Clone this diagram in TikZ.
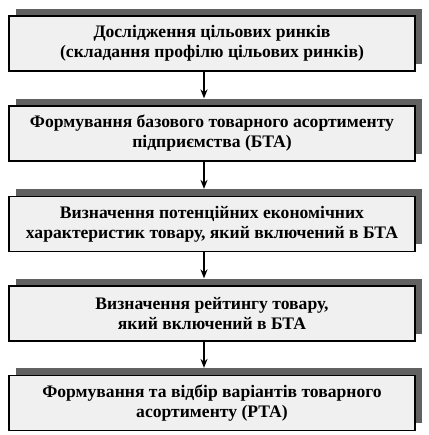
\documentclass[tikz,border=0pt]{standalone}
\usepackage{fontspec}
\setmainfont{Liberation Serif}
\usetikzlibrary{shadows,arrows.meta}
\begin{document}
\begin{tikzpicture}[x=1pt,y=1pt,
  stepbox/.style={draw=black, line width=1.2pt, fill=gray!12,
    minimum width=406pt, minimum height=55pt, align=center,
    font=\fontsize{17.6}{20}\selectfont\bfseries, inner sep=0pt,
    drop shadow={shadow xshift=7pt, shadow yshift=7pt, fill=black!62, opacity=1}},
  arr/.style={line width=1.8pt, -{Stealth[length=9pt,width=7pt]}}]
\useasboundingbox (0,0) rectangle (428,435);
\coordinate (ax) at (204,0);
\node[stepbox] (b1) at (212,391.5) {Дослідження цільових ринків\\(складання профілю цільових ринків)};
\node[stepbox] (b2) at (212,301.5) {Формування базового товарного асортименту\\підприємства (БТА)};
\node[stepbox] (b3) at (212,211) {Визначення потенційних економічних\\характеристик товару, який включений в БТА};
\node[stepbox] (b4) at (212,121.5) {Визначення рейтингу товару,\\який включений в БТА};
\node[stepbox] (b5) at (212,32) {Формування та відбір варіантів товарного\\асортименту (РТА)};
\draw[arr] (b1.south -| ax) -- ([yshift=7pt]b2.north -| ax);
\draw[arr] (b2.south -| ax) -- ([yshift=7pt]b3.north -| ax);
\draw[arr] (b3.south -| ax) -- ([yshift=7pt]b4.north -| ax);
\draw[arr] (b4.south -| ax) -- ([yshift=7pt]b5.north -| ax);
\end{tikzpicture}
\end{document}
